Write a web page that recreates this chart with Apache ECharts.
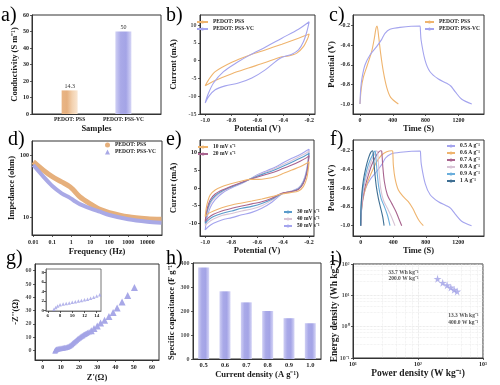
<!DOCTYPE html>
<html><head><meta charset="utf-8">
<script src="https://cdn.jsdelivr.net/npm/echarts@6/dist/echarts.min.js"></script>
<style>html,body{margin:0;padding:0;background:#fff}#c{width:500px;height:385px}</style>
</head><body><div id="c"></div>
<script>
// ---------------- DATA ----------------
// a) conductivity
const aCategories = ['PEDOT: PSS', 'PEDOT: PSS-VC'];
const aConductivity = [14.3, 50];
// b) CV at one scan rate  [V, mA]
const bPSS = [[-1.0,-7.1],[-0.974,-5.4],[-0.923,-3.1],[-0.795,-0.45],[-0.654,1.6],[-0.538,3.0],[-0.41,4.6],[-0.282,6.3],[-0.218,7.2],[-0.2,7.5],[-0.21,6.3],[-0.244,3.9],[-0.295,2.1],[-0.359,1.3],[-0.423,0.95],[-0.538,-0.54],[-0.667,-2.1],[-0.795,-3.7],[-0.923,-5.6],[-1.0,-7.1]];
const bVC = [[-1.0,-11.9],[-0.98,-9.6],[-0.936,-6.3],[-0.859,-3.1],[-0.756,-0.54],[-0.654,1.6],[-0.538,3.75],[-0.41,6.3],[-0.282,8.8],[-0.2,10.9],[-0.218,8.1],[-0.244,5.3],[-0.282,3.0],[-0.333,1.8],[-0.423,0.67],[-0.538,-2.6],[-0.641,-4.9],[-0.744,-6.3],[-0.846,-7.1],[-0.923,-8.2],[-0.974,-10.1],[-1.0,-11.9]];
const bCurrentTicks = [-15,-10,-5,0,5,10];
// c) GCD  [s, V]
const cPSS = [[0,-1.0],[16,-0.84],[41,-0.728],[90,-0.602],[142,-0.466],[175,-0.329],[195,-0.227],[208,-0.203],[228,-0.312],[252,-0.483],[285,-0.67],[326,-0.83],[374,-0.932],[468,-1.0]];
const cVC = [[0,-1.0],[8,-0.857],[24,-0.738],[61,-0.602],[122,-0.5],[203,-0.414],[265,-0.34],[305,-0.278],[366,-0.237],[488,-0.217],[732,-0.203],[737,-0.25],[745,-0.346],[793,-0.551],[854,-0.67],[956,-0.745],[1058,-0.789],[1107,-0.816],[1160,-0.874],[1241,-0.952],[1363,-1.0]];
// d) impedance
const dFreq = [0.01,0.034,0.1,0.31,0.85,1.3,2.8,10,32,100,1000,10000,55000];
const dZ_PSS = [78,57,45,37,31,27.5,21.4,16.4,13.4,11.9,10.2,9.5,9.3];
const dZ_VC = [69,45,31.8,24.3,20.5,18.8,16.3,13.9,12.3,10.9,9.3,8.5,8.2];
const dFreqLabels = ['0.01','0.1','1','10','100','1000','10000'];
// e) CV at scan rates
const eRates = ['10 mV s⁻¹','20 mV s⁻¹','30 mV s⁻¹','40 mV s⁻¹','50 mV s⁻¹'];
const eVup = [-1.0,-0.987,-0.962,-0.923,-0.859,-0.795,-0.718,-0.654,-0.59,-0.526,-0.462,-0.397,-0.333,-0.269,-0.218,-0.2];
const eVdown = [-0.205,-0.218,-0.244,-0.282,-0.346,-0.41,-0.487,-0.564,-0.641,-0.718,-0.795,-0.872,-0.936,-0.974,-1.0];
const eI10up = [-8.1,-4.8,-2.0,-0.57,0.57,1.3,2.0,2.45,2.45,2.7,3.2,4.15,5.1,6.0,7.0,7.45];
const eI10down = [5.6,2.7,0.4,-0.85,-1.3,-1.7,-2.45,-3.1,-3.7,-4.25,-4.8,-5.6,-6.5,-7.2,-8.1];
const eI20up = [-9.5,-6.2,-3.4,-1.7,-0.4,0.57,1.6,2.45,3.2,3.9,4.6,5.6,6.5,7.6,8.6,9.15];
const eI20down = [7.45,4.15,1.3,-0.4,-1.1,-1.5,-2.9,-3.9,-4.5,-5.1,-5.75,-6.5,-7.45,-8.4,-9.5];
const eI30up = [-10,-6.9,-4.05,-2.2,-0.66,0.38,1.5,2.55,3.5,4.3,5.2,6.2,7.3,8.4,9.4,9.9];
const eI30down = [7.9,4.6,1.6,-0.3,-1.1,-1.6,-3.2,-4.4,-5.2,-5.75,-6.5,-7.2,-8.1,-9.05,-10];
const eI40up = [-10.7,-7.45,-4.6,-2.6,-0.85,0.28,1.4,2.55,3.7,4.6,5.6,6.7,7.8,9.0,10,10.5];
const eI40down = [8.4,4.8,1.8,-0.1,-1.0,-1.6,-3.5,-5.0,-5.95,-6.5,-7.2,-7.8,-8.8,-9.7,-10.7];
const eI50up = [-11.9,-8.6,-5.6,-3.3,-1.2,0.1,1.3,2.55,3.9,4.9,5.9,7.2,8.4,9.5,10.6,11.0];
const eI50down = [8.9,5.3,2.0,0,-1.0,-1.7,-4.05,-5.75,-6.9,-7.6,-8.4,-9.05,-10,-10.9,-11.9];
// f) GCD at current densities [s, V]
const fDensities = ['0.5 A g⁻¹','0.6 A g⁻¹','0.7 A g⁻¹','0.8 A g⁻¹','0.9 A g⁻¹','1 A g⁻¹'];
const f05 = cVC;
const f06 = [[0,-1.0],[8,-0.851],[25,-0.726],[53,-0.62],[94,-0.513],[147,-0.406],[197,-0.317],[258,-0.246],[319,-0.211],[381,-0.2],[393,-0.204],[401,-0.353],[422,-0.495],[463,-0.62],[524,-0.691],[585,-0.744],[639,-0.815],[680,-0.886],[721,-0.95],[770,-1.0]];
const f07 = [[0,-1.0],[8,-0.833],[25,-0.708],[53,-0.584],[94,-0.46],[135,-0.353],[176,-0.275],[217,-0.218],[246,-0.2],[258,-0.204],[270,-0.353],[291,-0.531],[328,-0.673],[381,-0.762],[434,-0.851],[475,-0.94],[504,-1.0]];
const f08 = [[0,-1.0],[8,-0.815],[25,-0.673],[53,-0.531],[94,-0.406],[135,-0.3],[176,-0.228],[197,-0.2],[209,-0.228],[225,-0.424],[246,-0.602],[278,-0.726],[328,-0.815],[368,-0.886],[422,-1.0]];
const f09 = [[0,-1.0],[4,-0.815],[16,-0.673],[41,-0.531],[74,-0.406],[115,-0.3],[156,-0.228],[176,-0.2],[184,-0.246],[201,-0.424],[221,-0.584],[250,-0.708],[291,-0.797],[328,-0.886],[360,-1.0]];
const f10 = [[0,-1.0],[4,-0.797],[16,-0.637],[33,-0.513],[61,-0.388],[94,-0.282],[123,-0.218],[147,-0.2],[156,-0.264],[172,-0.424],[192,-0.584],[217,-0.708],[246,-0.815],[270,-0.904],[287,-1.0]];
// g) Nyquist
const gZre = [6.8,7.0,7.3,7.6,8.0,8.5,9.0,9.5,10.0,10.5,11.0,11.5,12.0,12.5,13.0,13.5,14.0,14.5,15.0,15.5,16.0,16.5,17.0,17.5,18.0,18.5,19.0,19.5,20.0,20.5,21.0,21.5,22.0,22.5,23.0,23.5,24.0,24.7,25.5,26.7,28.2,30.0,31.8,34.0,36.4,38.7,40.9,43.6,46.7,50.4];
const gZim = [-0.3,0.2,0.6,0.9,1.15,1.3,1.45,1.55,1.7,1.8,1.95,2.05,2.2,2.35,2.55,2.75,3.0,3.3,3.7,4.2,4.8,5.4,6.0,6.6,7.2,7.8,8.4,9.0,9.5,10.0,10.5,10.9,11.3,11.8,12.2,12.6,13.0,13.5,14.1,14.8,16.5,18.4,20.6,22.8,25.5,28.6,32.0,36.4,41.3,47.3];
const gImTicks = [0,10,20,30,40,50,60];
// h) specific capacitance
const hCurrent = ['0.5','0.6','0.7','0.8','0.9','1.0'];
const hCapacitance = [381,282,236,200,170,149];
const hCapTicks = [0,100,200,300,400];
// i) Ragone
const iPower = [200,240,280,320,360,400];
const iEnergy = [33.7,25.1,21.0,17.8,15.1,13.3];
const iEnergyTicks = [0.1,1,10,100];

// ---------------- CHART ----------------
const F = '"Liberation Serif", "Times New Roman", serif';
const OR = '#efb46e', PU = '#a4a4ee', MAU = '#a8638e', BLU = '#5a9bcb', LT = '#d8c4d6', NAVY = '#3f6f93', BLU2='#6aaedc';
const sup = {'-1':'⁻¹','0':'⁰','1':'¹','2':'²','3':'³'};
const f1 = v => (+v).toFixed(1);
const zip = (xs, ys) => xs.map((x,k)=>[x, ys[k]]);
const plain = v => String(v);
const pow10 = v => '10'+sup[Math.round(Math.log10(v))];

function merge(a,b){const o=Object.assign({},a);for(const k in b){const v=b[k];if(v&&typeof v==='object'&&!Array.isArray(v)&&a[k]&&typeof a[k]==='object'&&!Array.isArray(a[k]))o[k]=merge(a[k],v);else o[k]=v;}return o;}
function ax(gi,o){
  return merge({gridIndex:gi,nameLocation:'middle',
    nameTextStyle:{fontFamily:F,fontWeight:'bold',fontSize:8.5,color:'#1a1a1a'},
    axisLine:{show:true,onZero:false,lineStyle:{color:'#333',width:1}},
    axisTick:{show:true,length:2,lineStyle:{color:'#333',width:0.8}},
    axisLabel:{fontFamily:F,fontWeight:'bold',fontSize:6,color:'#222',margin:3},
    splitLine:{show:false}},o);
}
const cv = vals => ({axisLabel:{customValues:vals},axisTick:{customValues:vals}});
const potTicks = [-1.0,-0.8,-0.6,-0.4,-0.2];
const timeTicks = [0,400,800,1200];

const grids = [
 {left:32,top:15,width:129,height:99},
 {left:200,top:15,width:115,height:99},
 {left:353,top:15,width:131,height:99},
 {left:32,top:141,width:130,height:94},
 {left:200,top:140,width:114,height:96},
 {left:353,top:140,width:131,height:96},
 {left:35,top:264,width:124,height:96},
 {left:193,top:263,width:128,height:96},
 {left:353,top:264,width:130,height:94},
 {left:46,top:269,width:55,height:42}
].map((g,k)=>Object.assign({show:true,borderColor:k===9?'#777':'#333',borderWidth:1,backgroundColor:k===9?'#fff':'transparent'},g));

const xAxis = [
 ax(0,merge({type:'value',min:0.3,max:2.7,name:'Samples',nameGap:8,axisTick:{show:false},
   axisLabel:{fontSize:5.5,formatter:v=>aCategories[Math.round(v)-1]||''}},{axisLabel:{customValues:[1,2]}})),
 ax(1,merge({type:'value',min:-1.04,max:-0.155,name:'Potential (V)',nameGap:9,axisLabel:{formatter:f1}},cv(potTicks))),
 ax(2,merge({type:'value',min:-85,max:1512,name:'Time (S)',nameGap:9,axisLabel:{formatter:plain}},cv(timeTicks))),
 ax(3,{type:'log',logBase:10,min:0.0086,max:59000,name:'Frequency (Hz)',nameGap:12,
   axisLabel:{showMinLabel:false,showMaxLabel:false,margin:4,formatter:v=>dFreqLabels[Math.round(Math.log10(v))+2]||''}}),
 ax(4,merge({type:'value',min:-1.04,max:-0.162,name:'Potential (V)',nameGap:9,axisLabel:{formatter:f1}},cv(potTicks))),
 ax(5,merge({type:'value',min:-95,max:1516,name:'Time (S)',nameGap:9,axisLabel:{formatter:plain}},cv(timeTicks))),
 ax(6,merge({type:'value',min:-4.2,max:63.9,name:"Z'(Ω)",nameGap:13,axisLabel:{margin:4,formatter:plain}},cv([0,10,20,30,40,50,60]))),
 ax(7,{type:'category',data:hCurrent,name:'Current density (A g⁻¹)',nameGap:11,axisTick:{show:false},axisLabel:{fontSize:6.5}}),
 ax(8,{type:'log',logBase:10,min:10,max:1000,name:'Power density (W kg⁻¹)',nameGap:11,nameTextStyle:{fontSize:9.5},
   axisLabel:{showMinLabel:true,showMaxLabel:true,formatter:pow10},
   splitLine:{show:true,lineStyle:{color:'#d8d8d8',type:'dotted',width:0.7}},
   minorSplitLine:{show:true,lineStyle:{color:'#e8e8e8',type:'dotted',width:0.7}}}),
 ax(9,merge({type:'value',min:5.7,max:14.7,axisLine:{lineStyle:{color:'#777'}},axisLabel:{fontSize:5,margin:2,formatter:plain}},cv([6,8,10,12,14]))),
 {type:'value',gridIndex:7,min:0,max:1,show:false}
];
const yAxis = [
 ax(0,{type:'value',min:0,max:60,interval:10,name:'Conductivity (S m⁻¹)',nameGap:12}),
 ax(1,merge({type:'value',min:-15,max:12.8,name:'Current (mA)',nameGap:22,axisLabel:{show:false}},cv(bCurrentTicks))),
 ax(2,merge({type:'value',min:-1.102,max:-0.091,name:'Potential (V)',nameGap:15,axisLabel:{formatter:f1}},cv(potTicks))),
 ax(3,{type:'log',logBase:10,min:5.2,max:168,name:'Impedance (ohm)',nameGap:15,
   axisLabel:{showMinLabel:false,showMaxLabel:false,formatter:v=>String(Math.round(v))}}),
 ax(4,merge({type:'value',min:-13.6,max:13.6,name:'Current (mA)',nameGap:22,axisLabel:{formatter:plain}},cv([-10,-5,0,5,10]))),
 ax(5,merge({type:'value',min:-1.11,max:-0.086,name:'Potential (V)',nameGap:15,axisLabel:{formatter:f1}},cv(potTicks))),
 ax(6,merge({type:'value',min:-7.1,max:65,name:"-Z''(Ω)",nameGap:15,axisLabel:{show:false}},cv(gImTicks))),
 ax(7,{type:'value',min:0,max:400,interval:100,name:'Specific capacitance (F g⁻¹)',nameGap:17,axisLabel:{show:false}}),
 ax(8,{type:'log',logBase:10,min:0.1,max:100,name:'Energy density (Wh kg⁻¹)',nameGap:13,nameTextStyle:{fontSize:9.5},
   axisLabel:{show:false},
   splitLine:{show:true,lineStyle:{color:'#d8d8d8',type:'dotted',width:0.7}},
   minorSplitLine:{show:true,lineStyle:{color:'#e8e8e8',type:'dotted',width:0.7}}}),
 ax(9,merge({type:'value',min:-0.15,max:8.7,axisLine:{lineStyle:{color:'#777'}},axisLabel:{fontSize:5,margin:2,formatter:plain}},cv([0,2,4,6,8])))
];

const gradH = (stops) => new echarts.graphic.LinearGradient(0,0,1,0,stops.map((c,k)=>({offset:k/(stops.length-1),color:c})));
const gOr = gradH(['#e9b585','#e6b07f','#f3d2b0','#f9e6d2']);
const gPu = gradH(['#cfcff4','#a9a9e8','#a4a4e6','#d6d6f6']);
const gPu2 = gradH(['#cfcff4','#a9a9e8','#a4a4e6','#d6d6f6']);

function line(name, gi, data, color, w){
  return {type:'line',name,xAxisIndex:gi,yAxisIndex:gi,data,showSymbol:false,symbol:'none',smooth:0.3,
    lineStyle:{color,width:w||1.1},itemStyle:{color},animation:false};
}
// y tick labels drawn as series labels at the left edge of a plot
function tickLabels(xi, yi, xAt, values, fmt){
  return {type:'scatter',xAxisIndex:xi,yAxisIndex:yi,data:values.map(v=>[xAt,v]),symbol:'circle',symbolSize:1,
    clip:false,silent:true,z:10,itemStyle:{color:'transparent'},
    label:{show:true,position:'left',distance:3,formatter:p=>fmt(p.value[1]),
      fontFamily:F,fontWeight:'bold',fontSize:6,color:'#222'}};
}
const loop = (up, down) => zip(eVup, up).concat(zip(eVdown, down));
const star = 'path://M50,0 L61,35 L98,35 L68,57 L79,91 L50,70 L21,91 L32,57 L2,35 L39,35 Z';
const iLabel = p => p.value[1].toFixed(1)+' Wh kg⁻¹\n'+p.value[0].toFixed(1)+' W kg⁻¹';
const iData = zip(iPower, iEnergy).map((v,k,arr)=>{
  if(k===0) return {value:v,label:{show:true,position:'left',distance:15,offset:[0,-3],align:'right'}};
  if(k===arr.length-1) return {value:v,label:{show:true,position:'bottom',distance:17,offset:[-9,0],align:'left'}};
  return v;
});

const series = [
 {type:'bar',xAxisIndex:0,yAxisIndex:0,data:zip([1,2],aConductivity),barWidth:16,
  itemStyle:{color:p=>p.dataIndex===0?gOr:gPu},
  label:{show:true,position:'top',distance:1,fontFamily:F,fontSize:6,color:'#333',formatter:p=>String(p.value[1])}},
 line('b#PEDOT: PSS',1,bPSS,OR),
 line('b#PEDOT: PSS-VC',1,bVC,PU),
 line('c#PEDOT: PSS',2,cPSS,OR),
 line('c#PEDOT: PSS-VC',2,cVC,PU),
 line('d#PEDOT: PSS',3,zip(dFreq,dZ_PSS),'#e6b07c',5),
 line('d#PEDOT: PSS-VC',3,zip(dFreq,dZ_VC),'#a9a9e6',4),
 line('e#'+eRates[4],4,loop(eI50up,eI50down),PU),
 line('e#'+eRates[3],4,loop(eI40up,eI40down),LT),
 line('e#'+eRates[2],4,loop(eI30up,eI30down),BLU),
 line('e#'+eRates[1],4,loop(eI20up,eI20down),MAU),
 line('e#'+eRates[0],4,loop(eI10up,eI10down),OR),
 line('f#'+fDensities[0],5,f05,PU),
 line('f#'+fDensities[1],5,f06,OR),
 line('f#'+fDensities[2],5,f07,MAU),
 line('f#'+fDensities[3],5,f08,LT),
 line('f#'+fDensities[4],5,f09,BLU2),
 line('f#'+fDensities[5],5,f10,NAVY),
 {type:'scatter',xAxisIndex:6,yAxisIndex:6,data:zip(gZre,gZim),symbol:'triangle',
  symbolSize:v=>v[0]>26?7:5.5,itemStyle:{color:'#a3a3e6',opacity:0.95}},
 {type:'scatter',xAxisIndex:9,yAxisIndex:9,data:zip(gZre,gZim),symbol:'triangle',symbolSize:3.5,clip:true,
  itemStyle:{color:'#a3a3e6'}},
 {type:'bar',xAxisIndex:7,yAxisIndex:7,data:hCapacitance,barWidth:11,itemStyle:{color:gPu2}},
 {type:'scatter',xAxisIndex:8,yAxisIndex:8,data:iData,symbol:star,symbolSize:8,itemStyle:{color:'#a0a0e6'},
  label:{show:false,formatter:iLabel,fontFamily:F,fontWeight:'bold',fontSize:5.5,lineHeight:6.5,color:'#222'}},
 tickLabels(1,1,-1.04,bCurrentTicks,plain),
 tickLabels(6,6,-4.2,gImTicks,plain),
 tickLabels(10,7,0,hCapTicks,plain),
 tickLabels(8,8,10,iEnergyTicks,pow10)
];

function lg(data,left,top,iw,ex){
  return merge({data,left,top,orient:'vertical',itemWidth:iw,itemHeight:4,itemGap:1,padding:0,selectedMode:false,
    formatter:n=>n.split('#')[1],textStyle:{fontFamily:F,fontWeight:'bold',fontSize:5.5,color:'#222',lineHeight:6}},ex||{});
}
const legend = [
 lg(['b#PEDOT: PSS','b#PEDOT: PSS-VC'],196,19,11),
 lg(['c#PEDOT: PSS','c#PEDOT: PSS-VC'],424,19,9),
 lg([{name:'d#PEDOT: PSS',icon:'circle'},{name:'d#PEDOT: PSS-VC',icon:'triangle'}],105,142,5,{itemHeight:5}),
 lg(['e#'+eRates[0],'e#'+eRates[1]],197,144,10),
 lg(['e#'+eRates[2],'e#'+eRates[3],'e#'+eRates[4]],283,209,8),
 lg(fDensities.map(d=>'f#'+d),446,143,8)
];

const letters = [['a)',1,6],['b)',166,6],['c)',329,6],['d)',8,130],['e)',166,130],['f)',330,130],['g)',6,249],['h)',166,249],['i)',330,250]];
const graphic = letters.map(([t,x,y])=>({type:'text',left:x,top:y,style:{text:t,font:'20px "Liberation Serif"',fill:'#000'}}));

const chart = echarts.init(document.getElementById('c'),null,{renderer:'canvas'});
chart.setOption({animation:false,backgroundColor:'#fff',grid:grids,xAxis,yAxis,series,legend,graphic});
</script></body></html>
